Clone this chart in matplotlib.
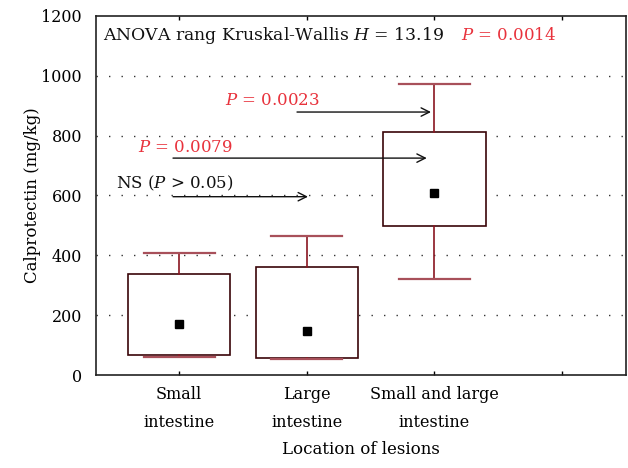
import matplotlib
matplotlib.use("Agg")
import matplotlib.pyplot as plt

plt.rcParams['font.family'] = ['DejaVu Serif']
plt.rcParams['mathtext.fontset'] = 'dejavuserif'

categories = ["Small\nintestine", "Large\nintestine", "Small and large\nintestine", ""]
whislo = [61, 53, 321]
q1 = [68, 56, 499]
med = [170, 147, 608]
q3 = [338, 360, 812]
whishi = [408, 466, 973]

y_ticks = [0, 200, 400, 600, 800, 1000, 1200]

# comparison arrows: (x_start, x_end, y)
arrow_x0 = [0.953, 0.953, 1.924]
arrow_x1 = [2.01, 2.94, 2.973]
arrow_y = [596, 725, 879]
arrow_labels = ["NS ($P$ > 0.05)", "$P$ = 0.0079", "$P$ = 0.0023"]
arrow_label_x = [0.507, 0.679, 1.36]
arrow_label_y = [642, 762, 919]
arrow_label_colors = ["#111111", "#e8323c", "#e8323c"]

fig = plt.figure(figsize=(6.28, 4.68), dpi=100)
ax = fig.add_axes([96/628, 1-375/468, (626-96)/628, (375-16)/468])

stats = []
for i in range(3):
    stats.append(dict(whislo=whislo[i], q1=q1[i], med=med[i], q3=q3[i],
                      whishi=whishi[i], mean=med[i], fliers=[]))

ax.bxp(stats, positions=[1, 2, 3], widths=0.80, capwidths=0.556,
       patch_artist=True, showmeans=True, showfliers=False,
       boxprops=dict(facecolor="white", edgecolor="#3a0508", linewidth=1.2),
       whiskerprops=dict(color="#8a1520", linewidth=1.2),
       capprops=dict(color="#a8505a", linewidth=1.6),
       medianprops=dict(linewidth=0),
       meanprops=dict(marker="s", markerfacecolor="black", markeredgecolor="black",
                      markersize=5.5))

ax.set_xlim(0.35, 4.5)
ax.set_ylim(0, 1200)
ax.set_xticks([1, 2, 3, 4])
ax.set_xticklabels(categories, fontsize=11.5, linespacing=1.85)
ax.set_yticks(y_ticks)
ax.set_yticklabels([str(v) for v in y_ticks], fontsize=11.5)
ax.tick_params(axis='x', direction='in', length=3, top=True, width=1, pad=8)
ax.tick_params(axis='y', direction='in', length=0, right=True, pad=10)

for v in y_ticks[1:-1]:
    ax.axhline(v, color="#333333", linestyle=(0, (1, 8)), linewidth=1.0, zorder=0)
ax.set_axisbelow(True)

for s in ax.spines.values():
    s.set_linewidth(1.2)
    s.set_color("#222222")

for i in range(3):
    ax.annotate("", xy=(arrow_x1[i], arrow_y[i]), xytext=(arrow_x0[i], arrow_y[i]),
                arrowprops=dict(arrowstyle="->,head_length=0.6,head_width=0.3",
                                color="#111111", lw=1.0, shrinkA=0, shrinkB=0),
                zorder=5)
    ax.text(arrow_label_x[i], arrow_label_y[i], arrow_labels[i], fontsize=12,
            color=arrow_label_colors[i], ha="left", va="center", zorder=6)

ax.text(0.405, 1136, "ANOVA rang Kruskal-Wallis $H$ = 13.19", fontsize=12.4,
        color="#111111", ha="left", va="center")
ax.text(3.208, 1136, "$P$ = 0.0014", fontsize=12, color="#e8323c",
        ha="left", va="center")

ax.set_ylabel("Calprotectin (mg/kg)", fontsize=12, labelpad=0)
ax.set_xlabel("Location of lesions", fontsize=12, labelpad=7)

fig.savefig("out.png", dpi=100)
